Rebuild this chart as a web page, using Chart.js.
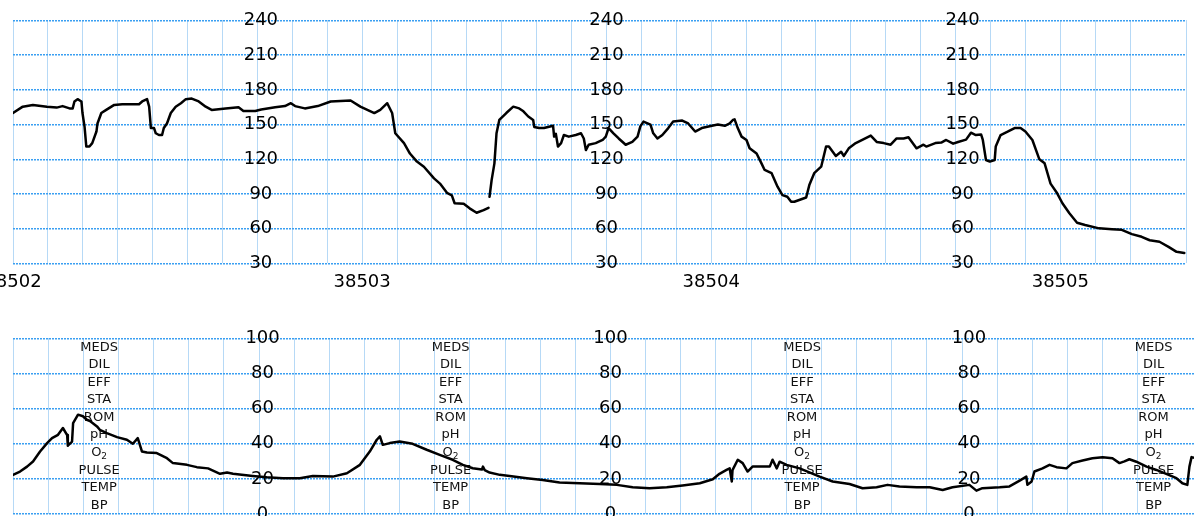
<!DOCTYPE html>
<html>
<head>
<meta charset="utf-8">
<title>Strip</title>
<script src="https://cdn.jsdelivr.net/npm/chart.js@4.4.1/dist/chart.umd.min.js"></script>
<style>
  html, body { margin: 0; padding: 0; background: #fff; overflow: hidden; }
  body { width: 1194px; height: 516px; position: relative; }
  .strip { position: absolute; left: -60px; width: 1254px; }
  #fhrBox { top: 0; height: 305px; }
  #tocoBox { top: 320px; height: 196px; }
</style>
</head>
<body>
<div class="strip" id="fhrBox"><canvas id="fhrChart"></canvas></div>
<div class="strip" id="tocoBox"><canvas id="tocoChart"></canvas></div>
<script>
// heart rate trace (top strip)
var fhrTime = [
  38502.000, 38502.028, 38502.057, 38502.097, 38502.125, 38502.142, 38502.162, 38502.171, 38502.176, 38502.185,
  38502.196, 38502.199, 38502.205, 38502.210, 38502.219, 38502.227, 38502.239, 38502.242, 38502.253, 38502.267,
  38502.290, 38502.313, 38502.361, 38502.370, 38502.384, 38502.390, 38502.395, 38502.404, 38502.409, 38502.418,
  38502.427, 38502.432, 38502.441, 38502.452, 38502.466, 38502.481, 38502.495, 38502.512, 38502.532, 38502.552,
  38502.569, 38502.609, 38502.646, 38502.660, 38502.694, 38502.711, 38502.751, 38502.779, 38502.796, 38502.808,
  38502.836, 38502.873, 38502.910, 38502.967, 38502.995, 38503.035, 38503.052, 38503.072, 38503.086, 38503.095,
  38503.120, 38503.137, 38503.157, 38503.177, 38503.206, 38503.223, 38503.243, 38503.257, 38503.265, 38503.291,
  38503.308, 38503.328, 38503.348, 38503.362, 38503.363, 38503.365, 38503.371, 38503.379, 38503.385, 38503.393,
  38503.413, 38503.433, 38503.450, 38503.462, 38503.476, 38503.490, 38503.493, 38503.507, 38503.521, 38503.547,
  38503.550, 38503.555, 38503.561, 38503.570, 38503.578, 38503.592, 38503.612, 38503.627, 38503.635, 38503.641,
  38503.649, 38503.669, 38503.689, 38503.698, 38503.706, 38503.720, 38503.735, 38503.755, 38503.774, 38503.789,
  38503.797, 38503.806, 38503.826, 38503.834, 38503.846, 38503.860, 38503.877, 38503.891, 38503.917, 38503.934,
  38503.954, 38503.973, 38504.002, 38504.019, 38504.039, 38504.053, 38504.062, 38504.067, 38504.076, 38504.087,
  38504.101, 38504.110, 38504.130, 38504.144, 38504.153, 38504.173, 38504.190, 38504.204, 38504.218, 38504.229,
  38504.238, 38504.272, 38504.281, 38504.295, 38504.315, 38504.329, 38504.337, 38504.357, 38504.372, 38504.380,
  38504.394, 38504.414, 38504.437, 38504.457, 38504.474, 38504.494, 38504.514, 38504.531, 38504.551, 38504.565,
  38504.588, 38504.608, 38504.616, 38504.642, 38504.659, 38504.673, 38504.693, 38504.707, 38504.730, 38504.744,
  38504.758, 38504.773, 38504.778, 38504.787, 38504.798, 38504.812, 38504.815, 38504.829, 38504.849, 38504.869,
  38504.886, 38504.900, 38504.920, 38504.940, 38504.955, 38504.972, 38504.991, 38505.006, 38505.026, 38505.048,
  38505.071, 38505.111, 38505.148, 38505.176, 38505.205, 38505.233, 38505.256, 38505.284, 38505.310, 38505.333,
  38505.355
];
var fhrValue = [
  160, 165.5, 167, 165.5, 164.7, 166, 164, 164, 170, 172,
  170, 160, 148, 131, 131, 134, 144, 151, 160, 162.7,
  167, 167.6, 167.6, 170, 172, 165.5, 147, 147, 142.5, 141,
  141, 147, 151, 160, 165.5, 168.5, 172, 172.5, 170, 165.5,
  162.7, 164, 165, 161.8, 161.8, 163, 165, 166, 168.5, 166,
  164, 166, 170, 170.8, 165.5, 160, 162.7, 168.5, 160, 142.5,
  134, 125, 118, 113.6, 103.5, 99, 91, 88.8, 82, 81.5,
  77.6, 73.8, 76, 78, null, 87.6, 102, 116.5, 142.5, 154,
  160, 165.5, 164, 161.5, 157, 154, 148, 147, 147, 149,
  139.6, 142, 131, 134, 141, 139.6, 141, 142.5, 138, 128,
  132.6, 134, 136.7, 139.6, 147, 142.5, 138, 132.6, 135, 139.6,
  148.5, 152.6, 150, 142.5, 138, 141, 147, 152.6, 153.5, 151,
  144, 147, 149, 150, 149, 151, 154, 154.5, 147, 139.6,
  136.7, 129.5, 125, 116.5, 110.8, 108, 96.3, 89, 87.6, 83.3,
  83.3, 87, 97.7, 108, 113.6, 131, 131, 122.9, 126.5, 122.9,
  129.5, 134, 137.5, 140.5, 135, 134, 132.6, 138, 138, 139,
  129.5, 132.6, 131, 134, 134.5, 136.7, 133.5, 135, 137, 143,
  141, 141.5, 136.7, 119.4, 118, 119.4, 131, 141, 143.9, 147,
  147, 144, 136.7, 120, 116.5, 99, 90.6, 82, 73.3, 65.2,
  63.2, 60.3, 59.5, 59, 55.3, 53, 50, 48.7, 44.3, 40,
  39
];

// contraction trace (bottom strip)
var tocoTime = [
  38502.000, 38502.020, 38502.040, 38502.057, 38502.077, 38502.097, 38502.111, 38502.128, 38502.142, 38502.154,
  38502.156, 38502.168, 38502.171, 38502.185, 38502.199, 38502.210, 38502.219, 38502.239, 38502.247, 38502.267,
  38502.296, 38502.324, 38502.341, 38502.355, 38502.367, 38502.381, 38502.409, 38502.438, 38502.455, 38502.495,
  38502.523, 38502.555, 38502.589, 38502.609, 38502.626, 38502.682, 38502.722, 38502.768, 38502.816, 38502.853,
  38502.882, 38502.910, 38502.950, 38502.987, 38503.015, 38503.035, 38503.044, 38503.052, 38503.072, 38503.100,
  38503.137, 38503.177, 38503.214, 38503.251, 38503.280, 38503.308, 38503.334, 38503.337, 38503.342, 38503.356,
  38503.385, 38503.413, 38503.462, 38503.507, 38503.555, 38503.612, 38503.669, 38503.718, 38503.763, 38503.811,
  38503.860, 38503.905, 38503.954, 38503.991, 38504.010, 38504.030, 38504.039, 38504.045, 38504.047, 38504.062,
  38504.076, 38504.090, 38504.104, 38504.133, 38504.153, 38504.161, 38504.173, 38504.181, 38504.201, 38504.238,
  38504.295, 38504.332, 38504.380, 38504.417, 38504.457, 38504.488, 38504.522, 38504.571, 38504.608, 38504.645,
  38504.673, 38504.721, 38504.741, 38504.758, 38504.807, 38504.835, 38504.864, 38504.883, 38504.886, 38504.898,
  38504.906, 38504.929, 38504.949, 38504.969, 38504.997, 38505.014, 38505.043, 38505.071, 38505.100, 38505.128,
  38505.148, 38505.162, 38505.176, 38505.196, 38505.225, 38505.253, 38505.281, 38505.310, 38505.327, 38505.341,
  38505.347, 38505.353, 38505.361
];
var tocoValue = [
  22.3, 24.2, 27, 29.9, 35.6, 40.4, 43.2, 45.1, 49, 45,
  38.9, 41.3, 51.8, 56.6, 55.7, 53.7, 53, 49.9, 48, 46.1,
  43.8, 42.3, 40, 43.2, 35.6, 35, 34.7, 31.8, 29, 28,
  26.7, 26, 22.9, 23.6, 22.9, 21.7, 21, 20.4, 20.4, 21.7,
  21.5, 21.3, 23.2, 28, 35.6, 42.3, 44.2, 39.4, 40.4, 41.3,
  40, 36.6, 33.7, 30.9, 28, 26.1, 25.3, 27, 25, 23.6,
  22.3, 21.7, 20.4, 19.4, 17.9, 17.5, 17.1, 16.6, 15.2, 14.7,
  15.2, 16.2, 17.5, 19.8, 22.9, 25.1, 26, 18.5, 25, 30.9,
  29, 24.2, 27, 27, 27, 30.9, 26, 29.8, 28, 26,
  21.3, 18.5, 17.1, 14.7, 15.2, 16.6, 15.7, 15.2, 15.2, 13.7,
  15.2, 16.6, 13.3, 14.7, 15.2, 15.7, 19, 21.3, 16.6, 18.5,
  24.2, 26, 28, 26.7, 26, 29, 30.5, 31.8, 32.4, 31.8,
  29, 30, 31.2, 29.8, 27, 25.1, 22.9, 20.4, 17.5, 16.6,
  27, 32.4, 32
];

// annotation rows printed on the bottom strip
var noteLabels = ['MEDS', 'DIL', 'EFF', 'STA', 'ROM', 'pH', 'O2', 'PULSE', 'TEMP', 'BP'];
var noteLevels = [95, 85, 75, 65, 55, 45, 35, 25, 15, 5];

var dayStart = 38502;
var dayEnd = 38505.36;
var axisColumns = [38502.71, 38503.7, 38504.72];   // where the value scale is repeated
var noteColumns = [38502.245, 38503.245, 38504.245, 38505.245];

Chart.defaults.font.family = "'DejaVu Sans', Verdana, sans-serif";
Chart.defaults.color = '#000';

function toPoints(xs, ys) {
  return xs.map(function (x, i) { return { x: x, y: ys[i] }; });
}

// repeated scale numbers + note column, drawn under the trace
var stripText = {
  id: 'stripText',
  beforeDatasetsDraw: function (chart, args, opts) {
    var ctx = chart.ctx;
    var xs = chart.scales.x, ys = chart.scales.y;
    ctx.save();
    ctx.fillStyle = '#000';
    ctx.textAlign = 'center';
    ctx.textBaseline = 'middle';
    ctx.font = "18px 'DejaVu Sans'";
    ys.ticks.forEach(function (t) {
      var y = ys.getPixelForValue(t.value);
      axisColumns.forEach(function (c) {
        ctx.fillText(String(t.value), xs.getPixelForValue(c), y);
      });
    });
    if (opts.notes) {
      ctx.fillStyle = '#111';
      noteColumns.forEach(function (c) {
        var cx = xs.getPixelForValue(c);
        noteLabels.forEach(function (txt, i) {
          var y = ys.getPixelForValue(noteLevels[i]);
          if (txt === 'O2') {
            ctx.font = "13px 'DejaVu Sans'";
            var w1 = ctx.measureText('O').width;
            ctx.font = "9px 'DejaVu Sans'";
            var w2 = ctx.measureText('2').width;
            var left = cx - (w1 + w2) / 2;
            ctx.textAlign = 'left';
            ctx.font = "13px 'DejaVu Sans'";
            ctx.fillText('O', left, y);
            ctx.font = "9px 'DejaVu Sans'";
            ctx.fillText('2', left + w1, y + 4);
            ctx.textAlign = 'center';
          } else {
            ctx.font = "13px 'DejaVu Sans'";
            ctx.fillText(txt, cx, y);
          }
        });
      });
    }
    ctx.restore();
  }
};

function stripOptions(yMin, yMax, yStep, showDays, pad, notes) {
  return {
    responsive: true,
    maintainAspectRatio: false,
    animation: false,
    layout: { padding: pad },
    plugins: {
      legend: { display: false },
      tooltip: { enabled: false },
      stripText: { notes: notes }
    },
    scales: {
      x: {
        type: 'linear',
        min: dayStart,
        max: dayEnd,
        grid: { color: '#6fb3ee', lineWidth: 1, drawTicks: false },
        border: { display: false, dash: [1, 1] },
        ticks: {
          display: showDays,
          stepSize: 0.1,
          autoSkip: false,
          maxRotation: 0,
          padding: 8,
          font: { size: 18 },
          callback: function (v) {
            return Math.abs(v - Math.round(v)) < 1e-6 ? String(Math.round(v)) : '';
          }
        }
      },
      y: {
        min: yMin,
        max: yMax,
        grid: { color: '#3a9ff2', lineWidth: 1.5, drawTicks: false },
        border: { display: false, dash: [2, 1] },
        ticks: { stepSize: yStep, display: false }
      }
    }
  };
}

function traceDataset(points) {
  return {
    data: points,
    borderColor: '#000',
    borderWidth: 2.5,
    pointRadius: 0,
    tension: 0,
    spanGaps: false,
    borderJoinStyle: 'round',
    borderCapStyle: 'round'
  };
}

var fhrChart = new Chart(document.getElementById('fhrChart'), {
  type: 'line',
  data: { datasets: [traceDataset(toPoints(fhrTime, fhrValue))] },
  options: stripOptions(30, 240, 30, true, { left: 73, right: 0, top: 20.5, bottom: 4 }, false),
  plugins: [stripText]
});

var tocoChart = new Chart(document.getElementById('tocoChart'), {
  type: 'line',
  data: { datasets: [traceDataset(toPoints(tocoTime, tocoValue))] },
  options: stripOptions(0, 100, 20, false, { left: 73, right: 0, top: 18.5, bottom: 2 }, true),
  plugins: [stripText]
});
</script>
</body>
</html>
